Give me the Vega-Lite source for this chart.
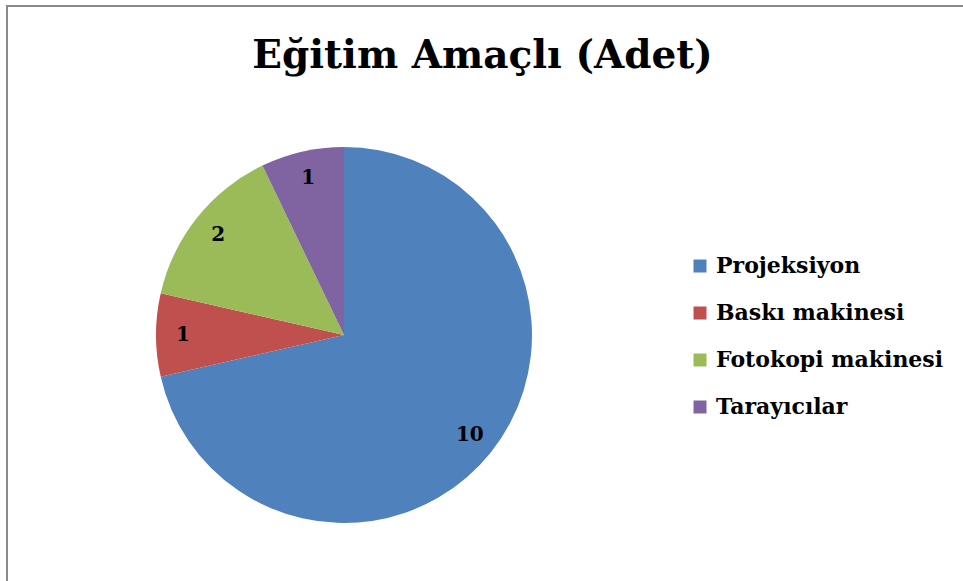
{
  "$schema": "https://vega.github.io/schema/vega-lite/v6.json",
  "autosize": {"type": "none"},
  "padding": {"left": 7, "top": 6, "right": 0, "bottom": 0},
  "width": 963,
  "height": 581,
  "background": "white",
  "view": {"stroke": "#898989", "strokeWidth": 2},
  "title": {
    "text": "Eğitim Amaçlı (Adet)",
    "font": "DejaVu Serif",
    "fontSize": 39,
    "fontWeight": "bold",
    "color": "#000000",
    "anchor": "middle",
    "dx": -6,
    "baseline": "alphabetic",
    "offset": -101
  },
  "data": {
    "values": [
      {"category": "Projeksiyon", "value": 10},
      {"category": "Baskı makinesi", "value": 1},
      {"category": "Fotokopi makinesi", "value": 2},
      {"category": "Tarayıcılar", "value": 1}
    ]
  },
  "transform": [{"window": [{"op": "row_number", "as": "rank"}]}],
  "encoding": {
    "theta": {"field": "value", "type": "quantitative", "stack": true},
    "order": {"field": "rank", "type": "quantitative"}
  },
  "layer": [
    {
      "mark": {"type": "arc", "outerRadius": 188, "x": 337, "y": 329},
      "encoding": {
        "color": {
          "field": "category",
          "type": "nominal",
          "sort": ["Projeksiyon", "Baskı makinesi", "Fotokopi makinesi", "Tarayıcılar"],
          "scale": {
            "domain": ["Projeksiyon", "Baskı makinesi", "Fotokopi makinesi", "Tarayıcılar"],
            "range": ["#4F81BD", "#C0504D", "#9BBB59", "#8064A2"]
          },
          "legend": {
            "title": null,
            "orient": "none",
            "legendX": 682,
            "legendY": 249,
            "padding": 0,
            "symbolType": "square",
            "symbolSize": 169,
            "symbolStrokeWidth": 0,
            "labelFont": "DejaVu Serif",
            "labelFontWeight": "bold",
            "labelFontSize": 22,
            "labelColor": "#000000",
            "labelOffset": 5,
            "labelLimit": 400,
            "rowPadding": 25
          }
        }
      }
    },
    {
      "mark": {
        "type": "text",
        "radius": 161,
        "x": 337,
        "y": 329,
        "font": "DejaVu Serif",
        "fontWeight": "bold",
        "fontSize": 20,
        "color": "#000000"
      },
      "encoding": {
        "text": {"field": "value", "type": "quantitative"}
      }
    }
  ]
}
